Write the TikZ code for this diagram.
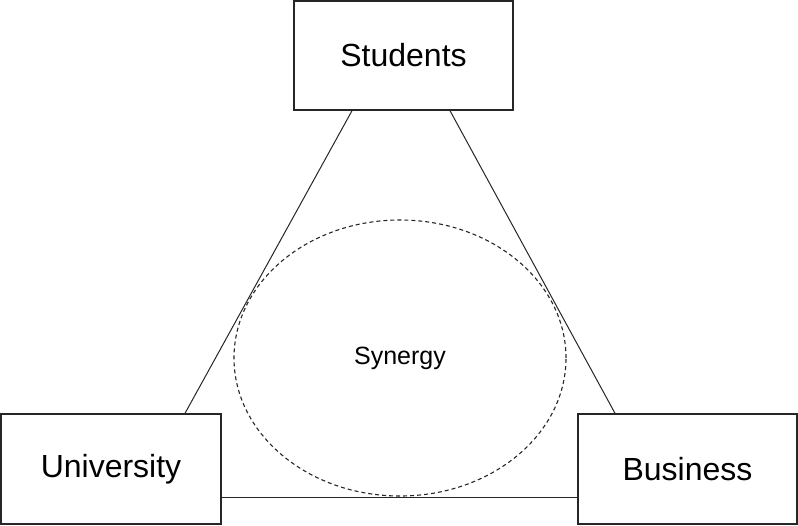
\documentclass[tikz,border=0pt]{standalone}
\usepackage{fontspec}
\setmainfont{Liberation Sans}
\usepackage{tikz}
\usetikzlibrary{shapes.geometric}
\tikzstyle{diagram} = [x = 1pt, y = -1pt]
\tikzstyle{partyBox} = [draw=black!85, line width=1.4pt, fill=white, minimum width=219pt, minimum height=109pt, inner sep=0pt, font=\fontsize{32}{38}\selectfont]
\tikzstyle{synergyStyle} = [ellipse, draw=black!85, dashed, dash pattern=on 4pt off 3pt, line width=1.1pt, minimum width=332pt, minimum height=276pt, inner sep=0pt, font=\fontsize{25}{30}\selectfont]
\tikzstyle{linkLine} = [draw=black!85, line width=1pt]

\begin{document}
\begin{tikzpicture}[diagram]
  \useasboundingbox (0,0) rectangle (798,525);
  % the three parties
  \node [partyBox] (students) at (403.5,55.5) {Students};
  \node [partyBox, minimum width=220pt, minimum height=110pt] (university) at (111,469) {University};
  \node [partyBox, minimum width=219pt, minimum height=110pt] (business) at (687.5,469) {Business};
  % synergy in the middle
  \node [synergyStyle] (synergy) at (400,358) {Synergy};
  % links between the parties
  \draw [linkLine] ([xshift=-51.5pt]students.south) -- ([xshift=74pt]university.north);
  \draw [linkLine] ([xshift=46.5pt]students.south) -- ([xshift=-72.5pt]business.north);
  \draw [linkLine] ([yshift=-28pt]university.east) -- ([yshift=-28pt]business.west);
\end{tikzpicture}
\end{document}
